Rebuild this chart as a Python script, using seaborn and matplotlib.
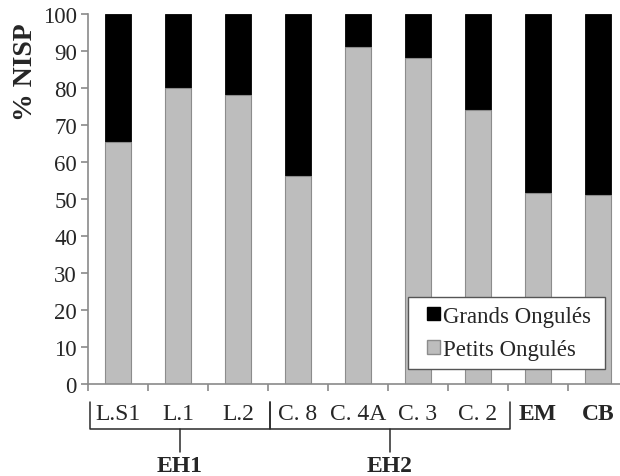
import matplotlib
matplotlib.use("Agg")
import matplotlib.pyplot as plt
import matplotlib.transforms as mtransforms
from matplotlib.patches import Patch, Rectangle
import seaborn as sns
import pandas as pd

# data
layers = ["L.S1", "L.1", "L.2", "C. 8", "C. 4A", "C. 3", "C. 2", "EM", "CB"]
petits = [65.5, 80.0, 78.0, 56.3, 91.0, 88.0, 74.0, 51.5, 51.2]
grands = [34.5, 20.0, 22.0, 43.7, 9.0, 12.0, 26.0, 48.5, 48.8]
groups = ["EH1", "EH2"]
group_spans = [(-0.47, 2.53), (2.53, 6.53)]
bold_labels = ["EM", "CB"]

df = pd.DataFrame({"layer": layers, "petits": petits, "grands": grands})
df["top"] = df["petits"] + df["grands"]

sns.set_style("white")
plt.rcParams["font.family"] = ["Liberation Serif", "DejaVu Serif"]

fig = plt.figure(figsize=(6.2, 4.77), dpi=100)
# axes runs a little past the right edge, as in the cropped original
ax = fig.add_axes([88 / 620, 92 / 477, 540 / 620, 370 / 477])

sns.barplot(data=df, x="layer", y="top", color="black", width=0.42,
            edgecolor="black", linewidth=0.6, saturation=1, ax=ax)
sns.barplot(data=df, x="layer", y="petits", color="#bdbdbd", width=0.42,
            edgecolor="#8c8c8c", linewidth=0.8, saturation=1, ax=ax)

ax.set_xlim(-0.5, 8.5)
ax.set_ylim(0, 100)
ax.set_yticks(range(0, 101, 10))
ax.set_xlabel("")
ax.set_ylabel("% NISP", fontsize=20, fontweight="bold")
ax.yaxis.set_label_coords(-0.092, 0.846)

sns.despine(ax=ax, top=True, right=True)
for s in ["left", "bottom"]:
    ax.spines[s].set_color("#8a8a8a")
    ax.spines[s].set_linewidth(1.2)

ax.tick_params(axis="y", direction="out", length=5, width=1.2, color="#8a8a8a",
               labelsize=16.5, pad=3, left=True)
ax.tick_params(axis="x", which="major", length=0, labelsize=17, pad=14)
ax.set_xticks([i - 0.5 for i in range(10)], minor=True)
ax.tick_params(axis="x", which="minor", direction="out", length=5, width=1.2,
               color="#8a8a8a", bottom=True)
for lab in ax.get_xticklabels():
    if lab.get_text() in bold_labels:
        lab.set_fontweight("bold")

# brackets below the tick labels
trans = mtransforms.blended_transform_factory(ax.transData, ax.transAxes)
def py(pix):
    return -(pix - 385) / 370

for name, (x0, x1) in zip(groups, group_spans):
    xm = (x0 + x1) / 2
    ax.plot([x0, x0, x1, x1], [py(403), py(430), py(430), py(403)],
            color="#2a2a2a", lw=1.1, transform=trans, clip_on=False)
    ax.plot([xm, xm], [py(430), py(453)], color="#2a2a2a", lw=1.1,
            transform=trans, clip_on=False)
    ax.text(xm, py(467), name, transform=trans, ha="center", va="center",
            fontsize=17, fontweight="bold")

# legend box drawn by hand so the padding matches
box = Rectangle((320 / 540, 15 / 370), 197 / 540, 72 / 370, transform=ax.transAxes,
                facecolor="white", edgecolor="#555555", linewidth=1.0, zorder=4)
ax.add_patch(box)
handles = [Patch(facecolor="black", edgecolor="black", label="Grands Ongulés"),
           Patch(facecolor="#bdbdbd", edgecolor="#8c8c8c", label="Petits Ongulés")]
leg = ax.legend(handles=handles, loc="center left",
                bbox_to_anchor=(339 / 540, (385 - 334) / 370),
                fontsize=16.5, frameon=False, handlelength=0.55, handleheight=0.55,
                handletextpad=0.15, labelspacing=0.55, borderpad=0,
                borderaxespad=0)
leg.set_zorder(5)

fig.savefig("out.png", dpi=100)
